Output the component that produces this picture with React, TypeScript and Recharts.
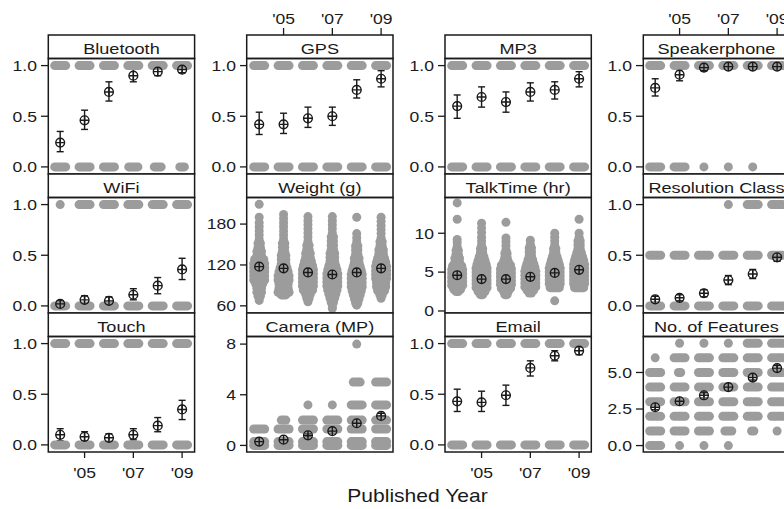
import React from 'react';
import { ScatterChart, Scatter, XAxis, YAxis, ErrorBar } from 'recharts';

// ---------- data ----------
const years = [2004, 2005, 2006, 2007, 2008, 2009];
const yearTicks = [2005, 2007, 2009];

// binary features: share of phones (mean with interval) and phone counts without / with
const bluetoothMean = [0.24, 0.46, 0.74, 0.9, 0.94, 0.96];
const bluetoothLow = [0.15, 0.37, 0.65, 0.84, 0.9, 0.93];
const bluetoothHigh = [0.35, 0.56, 0.84, 0.97, 0.99, 0.99];
const bluetoothNo = [38, 27, 13, 5, 4, 3];
const bluetoothYes = [12, 23, 37, 45, 47, 48];

const gpsMean = [0.42, 0.42, 0.48, 0.5, 0.76, 0.87];
const gpsLow = [0.32, 0.33, 0.39, 0.41, 0.68, 0.79];
const gpsHigh = [0.54, 0.53, 0.59, 0.59, 0.86, 0.95];
const gpsNo = [29, 29, 26, 25, 12, 7];
const gpsYes = [21, 21, 24, 25, 38, 43];

const mp3Mean = [0.6, 0.69, 0.64, 0.74, 0.76, 0.87];
const mp3Low = [0.48, 0.59, 0.54, 0.65, 0.67, 0.79];
const mp3High = [0.71, 0.79, 0.74, 0.83, 0.84, 0.94];
const mp3No = [20, 15, 18, 13, 12, 7];
const mp3Yes = [30, 35, 32, 37, 38, 43];

const speakerMean = [0.78, 0.91, 0.98, 0.99, 0.99, 0.99];
const speakerLow = [0.7, 0.85, 0.95, 0.97, 0.97, 0.97];
const speakerHigh = [0.87, 0.96, 1.0, 1.0, 1.0, 1.0];
const speakerNo = [11, 6, 1, 1, 1, 0];
const speakerYes = [39, 44, 49, 49, 49, 50];

const wifiMean = [0.02, 0.06, 0.05, 0.11, 0.2, 0.36];
const wifiLow = [0.0, 0.02, 0.01, 0.06, 0.12, 0.26];
const wifiHigh = [0.05, 0.1, 0.09, 0.17, 0.28, 0.47];
const wifiNo = [49, 44, 44, 44, 40, 32];
const wifiYes = [1, 6, 6, 6, 10, 18];

const touchMean = [0.1, 0.08, 0.07, 0.1, 0.19, 0.35];
const touchLow = [0.04, 0.04, 0.03, 0.05, 0.13, 0.25];
const touchHigh = [0.16, 0.13, 0.11, 0.16, 0.27, 0.44];
const touchNo = [45, 44, 44, 44, 40, 33];
const touchYes = [6, 6, 6, 6, 10, 17];

const emailMean = [0.43, 0.42, 0.49, 0.76, 0.88, 0.93];
const emailLow = [0.33, 0.33, 0.39, 0.68, 0.83, 0.89];
const emailHigh = [0.55, 0.53, 0.59, 0.83, 0.93, 0.97];
const emailNo = [28, 29, 26, 12, 7, 6];
const emailYes = [22, 21, 24, 38, 43, 44];

// resolution class: levels 0, 0.5, 1
const resolutionLevels = [0, 0.5, 1];
const resolutionMean = [0.065, 0.08, 0.125, 0.255, 0.315, 0.48];
const resolutionLow = [0.035, 0.05, 0.09, 0.21, 0.27, 0.44];
const resolutionHigh = [0.095, 0.11, 0.16, 0.3, 0.36, 0.52];
const resolutionCounts = [
  [45, 6, 0],
  [44, 6, 0],
  [42, 8, 0],
  [33, 14, 1],
  [29, 18, 6],
  [20, 25, 6],
];

// number of features: levels 0..7
const featureLevels = [0, 1, 2, 3, 4, 5, 6, 7];
const featureMean = [2.62, 3.03, 3.44, 4.0, 4.65, 5.3];
const featureLow = [2.45, 2.86, 3.27, 3.83, 4.48, 5.13];
const featureHigh = [2.79, 3.2, 3.61, 4.17, 4.82, 5.47];
const featureCounts = [
  [6, 6, 9, 10, 7, 6, 1, 0],
  [1, 6, 8, 10, 9, 2, 6, 1],
  [1, 6, 7, 9, 10, 6, 6, 1],
  [1, 4, 6, 8, 10, 8, 6, 1],
  [0, 2, 6, 7, 9, 10, 7, 6],
  [0, 1, 6, 6, 8, 10, 9, 6],
];

// camera megapixels: levels
const cameraLevels = [0, 0.3, 1.3, 2, 3.2, 5, 8];
const cameraMean = [0.3, 0.45, 0.8, 1.13, 1.75, 2.33];
const cameraLow = [0.18, 0.32, 0.66, 0.98, 1.55, 2.13];
const cameraHigh = [0.42, 0.58, 0.94, 1.28, 1.95, 2.53];
const cameraCounts = [
  [20, 15, 6, 0, 0, 0, 0],
  [20, 15, 8, 3, 0, 0, 0],
  [15, 15, 8, 6, 1, 0, 0],
  [12, 12, 10, 8, 1, 0, 0],
  [8, 10, 10, 8, 6, 4, 1],
  [6, 8, 10, 10, 8, 6, 0],
];

// weight (g): [value, phones] per year
const weightMean = [117.5, 115, 109, 106, 109, 115];
const weightLow = [113.5, 111, 105, 102, 105, 111];
const weightHigh = [121.5, 119, 113, 110, 113, 119];
const weight2004 = [[209, 1], [190, 1], [182, 1], [176, 1], [170, 1], [164, 1], [158, 1], [152, 2], [146, 2], [140, 3], [134, 3], [128, 5], [122, 6], [116, 8], [110, 8], [104, 7], [98, 6], [92, 4], [86, 3], [80, 3], [74, 2], [68, 1]];
const weight2005 = [[194, 1], [188, 1], [182, 1], [176, 1], [170, 1], [164, 1], [158, 1], [152, 2], [146, 2], [140, 2], [134, 3], [128, 3], [122, 3], [116, 4], [110, 5], [104, 6], [98, 6], [92, 5], [86, 5], [80, 6], [76, 3]];
const weight2006 = [[191, 1], [185, 1], [179, 1], [173, 1], [167, 1], [161, 1], [155, 1], [149, 2], [143, 2], [137, 3], [131, 3], [125, 4], [119, 5], [113, 6], [107, 7], [101, 8], [95, 7], [89, 6], [83, 5], [77, 3], [71, 2], [66, 1]];
const weight2007 = [[191, 1], [185, 1], [179, 1], [173, 1], [167, 1], [161, 2], [155, 2], [149, 2], [143, 2], [137, 3], [131, 3], [125, 3], [119, 4], [113, 5], [107, 6], [101, 7], [95, 7], [89, 6], [83, 5], [77, 4], [71, 3], [65, 2], [59, 1], [56, 1]];
const weight2008 = [[190, 1], [166, 1], [160, 1], [154, 1], [148, 2], [142, 2], [136, 2], [130, 3], [124, 3], [118, 4], [112, 5], [106, 6], [100, 7], [94, 7], [88, 6], [82, 5], [76, 4], [70, 3], [64, 2], [61, 1]];
const weight2009 = [[190, 1], [184, 1], [178, 1], [172, 1], [166, 1], [160, 1], [154, 2], [148, 2], [142, 3], [136, 3], [130, 4], [124, 5], [118, 6], [112, 7], [106, 7], [100, 6], [94, 5], [88, 5], [82, 4], [76, 2], [71, 1]];

// talk time (hr): [value, phones] per year
const talkMean = [4.6, 4.1, 4.1, 4.4, 4.9, 5.3];
const talkLow = [4.3, 3.8, 3.8, 4.1, 4.6, 5.0];
const talkHigh = [4.9, 4.4, 4.4, 4.7, 5.2, 5.6];
const talk2004 = [[13.9, 1], [11.8, 1], [9.2, 1], [8.8, 1], [8.3, 1], [7.8, 2], [7.3, 2], [6.8, 3], [6.3, 3], [5.8, 5], [5.3, 7], [4.8, 8], [4.3, 8], [3.8, 8], [3.3, 6], [2.8, 4], [2.5, 2]];
const talk2005 = [[11.3, 1], [10.7, 1], [10.1, 1], [9.5, 1], [9.0, 1], [8.5, 1], [8.0, 2], [7.5, 2], [7.0, 3], [6.5, 4], [6.0, 5], [5.5, 6], [5.0, 7], [4.5, 8], [4.0, 8], [3.5, 7], [3.0, 6], [2.5, 4], [2.1, 2]];
const talk2006 = [[11.4, 1], [9.4, 1], [8.9, 1], [8.4, 1], [7.9, 1], [7.4, 2], [6.9, 2], [6.4, 3], [5.9, 5], [5.4, 6], [4.9, 7], [4.4, 8], [3.9, 8], [3.4, 7], [2.9, 5], [2.5, 3], [2.1, 2]];
const talk2007 = [[9.1, 1], [8.6, 1], [8.1, 2], [7.6, 2], [7.1, 2], [6.6, 3], [6.1, 4], [5.6, 5], [5.1, 6], [4.6, 8], [4.1, 8], [3.6, 7], [3.1, 6], [2.7, 4], [2.3, 2]];
const talk2008 = [[10.0, 1], [9.5, 1], [9.0, 1], [8.5, 1], [8.0, 2], [7.5, 2], [7.0, 3], [6.5, 4], [6.0, 5], [5.5, 6], [5.0, 7], [4.5, 8], [4.0, 8], [3.5, 7], [3.0, 5], [1.3, 1]];
const talk2009 = [[11.8, 1], [10.0, 1], [9.5, 1], [9.0, 2], [8.5, 2], [8.0, 2], [7.5, 3], [7.0, 4], [6.5, 5], [6.0, 6], [5.5, 7], [5.0, 8], [4.5, 8], [4.0, 8], [3.5, 7], [3.0, 5]];

// ---------- table builders ----------
type Pt = { x: number; y: number; n?: number; err?: [number, number] };

function binaryDots(no: number[], yes: number[]): Pt[] {
  const out: Pt[] = [];
  years.forEach((yr, i) => {
    if (no[i] > 0) out.push({ x: yr, y: 0, n: no[i] });
    if (yes[i] > 0) out.push({ x: yr, y: 1, n: yes[i] });
  });
  return out;
}

function levelDots(levels: number[], counts: number[][]): Pt[] {
  const out: Pt[] = [];
  years.forEach((yr, i) => {
    levels.forEach((lv, j) => {
      if (counts[i][j] > 0) out.push({ x: yr, y: lv, n: counts[i][j] });
    });
  });
  return out;
}

function distDots(perYear: number[][][]): Pt[] {
  const out: Pt[] = [];
  years.forEach((yr, i) => {
    perYear[i].forEach(([v, n]) => out.push({ x: yr, y: v, n }));
  });
  return out;
}

function meanPts(mean: number[], low: number[], high: number[]): Pt[] {
  return years.map((yr, i) => ({ x: yr, y: mean[i], err: [mean[i] - low[i], high[i] - mean[i]] as [number, number] }));
}

// ---------- styling ----------
const FONT = '"Liberation Sans", Arial, Helvetica, sans-serif';
const INK = '#1a1a1a';
const GRAY = '#9c9c9c';
const SX = 1.17;

const COL_X = [48.3, 246.7, 445, 643.3];
const STRIP_TOP = [35, 174, 313];
const STRIP_H = 23.5;
const PANEL_H = 115.5;
const PANEL_W = 146.3;
const AXIS_W = 48;
const TOP_SPACE = 35;
const BOTTOM_SPACE = 45;
const RIGHT_PAD = 6;

const f1 = (v: number) => v.toFixed(1);
const f0 = (v: number) => String(v);
const yearLabel = (v: number) => `'${String(v).slice(2)}`;
const binTicks = [0, 0.5, 1];
const binDomain: [number, number] = [-0.07, 1.07];

type PanelDef = {
  title: string;
  row: number;
  col: number;
  domain: [number, number];
  ticks: number[];
  fmt: (v: number) => string;
  dots: Pt[];
  means: Pt[];
  xAxis: 'none' | 'top' | 'bottom';
};

const panels: PanelDef[] = [
  { title: 'Bluetooth', row: 0, col: 0, domain: binDomain, ticks: binTicks, fmt: f1, dots: binaryDots(bluetoothNo, bluetoothYes), means: meanPts(bluetoothMean, bluetoothLow, bluetoothHigh), xAxis: 'none' },
  { title: 'GPS', row: 0, col: 1, domain: binDomain, ticks: binTicks, fmt: f1, dots: binaryDots(gpsNo, gpsYes), means: meanPts(gpsMean, gpsLow, gpsHigh), xAxis: 'top' },
  { title: 'MP3', row: 0, col: 2, domain: binDomain, ticks: binTicks, fmt: f1, dots: binaryDots(mp3No, mp3Yes), means: meanPts(mp3Mean, mp3Low, mp3High), xAxis: 'none' },
  { title: 'Speakerphone', row: 0, col: 3, domain: binDomain, ticks: binTicks, fmt: f1, dots: binaryDots(speakerNo, speakerYes), means: meanPts(speakerMean, speakerLow, speakerHigh), xAxis: 'top' },
  { title: 'WiFi', row: 1, col: 0, domain: binDomain, ticks: binTicks, fmt: f1, dots: binaryDots(wifiNo, wifiYes), means: meanPts(wifiMean, wifiLow, wifiHigh), xAxis: 'none' },
  { title: 'Weight (g)', row: 1, col: 1, domain: [49.5, 219], ticks: [60, 120, 180], fmt: f0, dots: distDots([weight2004, weight2005, weight2006, weight2007, weight2008, weight2009]), means: meanPts(weightMean, weightLow, weightHigh), xAxis: 'none' },
  { title: 'TalkTime (hr)', row: 1, col: 2, domain: [-0.26, 14.6], ticks: [0, 5, 10], fmt: f0, dots: distDots([talk2004, talk2005, talk2006, talk2007, talk2008, talk2009]), means: meanPts(talkMean, talkLow, talkHigh), xAxis: 'none' },
  { title: 'Resolution Class', row: 1, col: 3, domain: binDomain, ticks: binTicks, fmt: f1, dots: levelDots(resolutionLevels, resolutionCounts), means: meanPts(resolutionMean, resolutionLow, resolutionHigh), xAxis: 'none' },
  { title: 'Touch', row: 2, col: 0, domain: binDomain, ticks: binTicks, fmt: f1, dots: binaryDots(touchNo, touchYes), means: meanPts(touchMean, touchLow, touchHigh), xAxis: 'bottom' },
  { title: 'Camera (MP)', row: 2, col: 1, domain: [-0.52, 8.6], ticks: [0, 4, 8], fmt: f0, dots: levelDots(cameraLevels, cameraCounts), means: meanPts(cameraMean, cameraLow, cameraHigh), xAxis: 'none' },
  { title: 'Email', row: 2, col: 2, domain: binDomain, ticks: binTicks, fmt: f1, dots: binaryDots(emailNo, emailYes), means: meanPts(emailMean, emailLow, emailHigh), xAxis: 'bottom' },
  { title: 'No. of Features', row: 2, col: 3, domain: [-0.44, 7.46], ticks: [0, 2.5, 5], fmt: f1, dots: levelDots(featureLevels, featureCounts), means: meanPts(featureMean, featureLow, featureHigh), xAxis: 'none' },
];

// ---------- marks ----------
// each gray pill stands for the phones sharing one value in one year;
// more phones spread sideways further, up to the jitter width
const DOT_R = 4.5;
const spread = (n: number) => Math.min(5.5, (n - 1) * 1.15);

const Pill = (p: any) => {
  if (p.cx == null || p.cy == null) return null;
  const L = spread(p.payload?.n ?? 1);
  return (
    <rect x={p.cx - L - DOT_R} y={p.cy - DOT_R} width={2 * (L + DOT_R)} height={2 * DOT_R} rx={DOT_R} ry={DOT_R} fill={GRAY} />
  );
};

const MARK_R = 4.4;
const Marker = (p: any) => {
  if (p.cx == null || p.cy == null) return null;
  return (
    <g stroke={INK} strokeWidth={1.4} fill="none">
      <circle cx={p.cx} cy={p.cy} r={MARK_R} />
      <line x1={p.cx - MARK_R} x2={p.cx + MARK_R} y1={p.cy} y2={p.cy} />
      <line x1={p.cx} x2={p.cx} y1={p.cy - MARK_R} y2={p.cy + MARK_R} />
    </g>
  );
};

function Label({ x, y, size, anchor, children }: { x: number; y: number; size: number; anchor: 'start' | 'middle' | 'end'; children: React.ReactNode }) {
  return (
    <text transform={`translate(${x} ${y}) scale(${SX} 1)`} fontSize={size} textAnchor={anchor} fontFamily={FONT} fill={INK}>
      {children}
    </text>
  );
}

const makeYTick = (fmt: (v: number) => string) => (p: any) => (
  <Label x={p.x} y={p.y + 5.3} size={15} anchor="end">{fmt(p.payload.value)}</Label>
);

const TopTick = (p: any) => (
  <g>
    <line x1={p.x} x2={p.x} y1={TOP_SPACE} y2={TOP_SPACE - 7} stroke={INK} strokeWidth={1.3} />
    <Label x={p.x} y={TOP_SPACE - 11} size={15} anchor="middle">{yearLabel(p.payload.value)}</Label>
  </g>
);

const PLOT_BOTTOM = TOP_SPACE + STRIP_H + PANEL_H;
const BottomTick = (p: any) => (
  <g>
    <line x1={p.x} x2={p.x} y1={PLOT_BOTTOM} y2={PLOT_BOTTOM + 6} stroke={INK} strokeWidth={1.3} />
    <Label x={p.x} y={PLOT_BOTTOM + 26} size={15} anchor="middle">{yearLabel(p.payload.value)}</Label>
  </g>
);

function Panel({ def }: { def: PanelDef }) {
  const W = AXIS_W + PANEL_W + RIGHT_PAD;
  const H = TOP_SPACE + STRIP_H + PANEL_H + BOTTOM_SPACE;
  const left = COL_X[def.col] - AXIS_W;
  const top = STRIP_TOP[def.row] - TOP_SPACE;
  const margin = {
    top: def.xAxis === 'top' ? 0 : TOP_SPACE + STRIP_H,
    bottom: def.xAxis === 'bottom' ? 0 : BOTTOM_SPACE,
    left: 0,
    right: RIGHT_PAD,
  };
  return (
    <div style={{ position: 'absolute', left, top, width: W, height: H }}>
      <ScatterChart width={W} height={H} margin={margin}>
        <XAxis
          type="number"
          dataKey="x"
          domain={[2003.5, 2009.5]}
          allowDataOverflow
          ticks={yearTicks}
          interval={0}
          hide={def.xAxis === 'none'}
          orientation={def.xAxis === 'top' ? 'top' : 'bottom'}
          height={def.xAxis === 'top' ? TOP_SPACE + STRIP_H : BOTTOM_SPACE}
          axisLine={false}
          tickLine={false}
          tick={def.xAxis === 'top' ? TopTick : BottomTick}
        />
        <YAxis
          type="number"
          dataKey="y"
          domain={def.domain}
          allowDataOverflow
          ticks={def.ticks}
          interval={0}
          width={AXIS_W}
          tickSize={7}
          tickMargin={4}
          axisLine={false}
          tickLine={{ stroke: INK, strokeWidth: 1.3 }}
          tick={makeYTick(def.fmt)}
        />
        <Scatter data={def.dots} shape={Pill} isAnimationActive={false} />
        <Scatter data={def.means} shape={Marker} isAnimationActive={false}>
          <ErrorBar dataKey="err" direction="y" width={3.5} stroke={INK} strokeWidth={1.4} />
        </Scatter>
      </ScatterChart>
    </div>
  );
}

export default function App() {
  return (
    <div style={{ position: 'absolute', left: 0, top: 0, width: 784, height: 509, overflow: 'hidden', background: '#fff' }}>
      {panels.map((d) => (
        <Panel key={d.title} def={d} />
      ))}
      <svg width={784} height={509} style={{ position: 'absolute', left: 0, top: 0, pointerEvents: 'none' }}>
        {panels.map((d) => {
          const x = COL_X[d.col];
          const y = STRIP_TOP[d.row];
          return (
            <g key={d.title}>
              <rect x={x} y={y} width={PANEL_W} height={STRIP_H} fill="#fff" stroke={INK} strokeWidth={1.5} />
              <rect x={x} y={y + STRIP_H} width={PANEL_W} height={PANEL_H} fill="none" stroke={INK} strokeWidth={1.5} />
              <Label x={x + PANEL_W / 2} y={y + 18.5} size={15.5} anchor="middle">{d.title}</Label>
            </g>
          );
        })}
        <Label x={417.5} y={502} size={18} anchor="middle">Published Year</Label>
      </svg>
    </div>
  );
}
